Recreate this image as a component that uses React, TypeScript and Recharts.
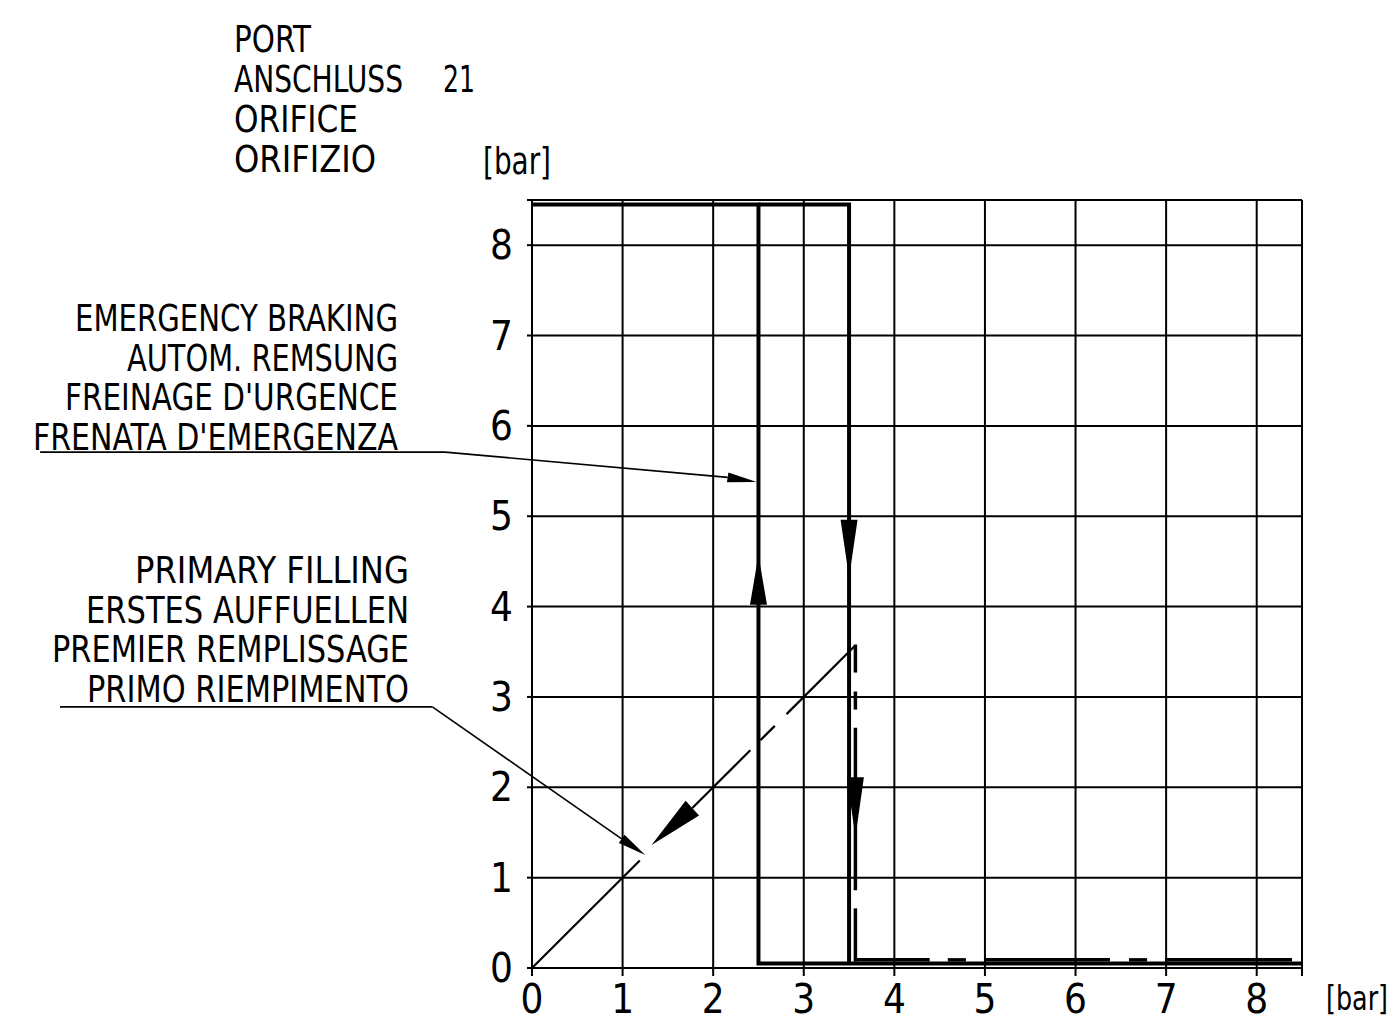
import { LineChart, Line, XAxis, YAxis, CartesianGrid, ReferenceLine } from 'recharts'

const FONT = '"Liberation Sans Narrow", "DejaVu Sans Condensed", "Liberation Sans", sans-serif'

// axis ticks (8.5 closes the frame, no label)
const X_TICKS = [0, 1, 2, 3, 4, 5, 6, 7, 8, 8.5]
const Y_TICKS = [0, 1, 2, 3, 4, 5, 6, 7, 8, 8.5]

// emergency braking (thick solid)
const BRAKE_OUTER = [{ x: 0, y: 8.45 }, { x: 2.5, y: 8.45 }, { x: 2.5, y: 0.05 }, { x: 8.5, y: 0.05 }]
const BRAKE_INNER = [{ x: 2.5, y: 8.45 }, { x: 3.5, y: 8.45 }, { x: 3.5, y: 0.05 }]

// primary filling ramp, drawn in pieces as on the drawing
const FILL_RAMP = [
  [{ x: 0, y: 0 }, { x: 1.19, y: 1.19 }],
  [{ x: 1.77, y: 1.77 }, { x: 2.41, y: 2.41 }],
  [{ x: 2.52, y: 2.52 }, { x: 2.68, y: 2.68 }],
  [{ x: 2.81, y: 2.81 }, { x: 3.56, y: 3.56 }],
]
// dashed drop at ~3.57 bar
const FILL_DROP = [
  [{ x: 3.57, y: 3.58 }, { x: 3.57, y: 3.27 }],
  [{ x: 3.57, y: 3.06 }, { x: 3.57, y: 2.86 }],
  [{ x: 3.57, y: 2.66 }, { x: 3.57, y: 0.86 }],
  [{ x: 3.57, y: 0.66 }, { x: 3.57, y: 0.07 }],
]
// dashed tail near 0 bar
const FILL_TAIL = [
  [{ x: 3.57, y: 0.09 }, { x: 4.39, y: 0.09 }],
  [{ x: 4.59, y: 0.09 }, { x: 4.79, y: 0.09 }],
  [{ x: 5.0, y: 0.09 }, { x: 6.38, y: 0.09 }],
  [{ x: 6.59, y: 0.09 }, { x: 6.79, y: 0.09 }],
  [{ x: 6.99, y: 0.09 }, { x: 8.39, y: 0.09 }],
]

// flow arrows: base -> tip
const FLOW_ARROWS = [
  [{ x: 2.5, y: 4.02 }, { x: 2.5, y: 4.57 }],
  [{ x: 3.5, y: 4.96 }, { x: 3.5, y: 4.32 }],
  [{ x: 3.57, y: 2.11 }, { x: 3.57, y: 1.45 }],
  [{ x: 1.77, y: 1.77 }, { x: 1.32, y: 1.36 }],
]

// callout leaders
const LEADER_EMERGENCY = [{ x: -5.43, y: 5.71 }, { x: -0.96, y: 5.71 }, { x: 2.16, y: 5.43 }]
const LEADER_EMERGENCY_TIP = { x: 2.48, y: 5.38 }
const LEADER_PRIMARY = [{ x: -5.21, y: 2.89 }, { x: -1.1, y: 2.89 }, { x: 0.99, y: 1.43 }]
const LEADER_PRIMARY_TIP = { x: 1.25, y: 1.25 }

const EMERGENCY_TEXT = ['EMERGENCY BRAKING', 'AUTOM. REMSUNG', "FREINAGE D'URGENCE", "FRENATA D'EMERGENZA"]
const EMERGENCY_WIDTHS = [323, 271, 333, 365]
const PRIMARY_TEXT = ['PRIMARY FILLING', 'ERSTES AUFFUELLEN', 'PREMIER REMPLISSAGE', 'PRIMO RIEMPIMENTO']
const PRIMARY_WIDTHS = [274, 323, 357, 322]
const PORT_TEXT = ['PORT', 'ANSCHLUSS', 'ORIFICE', 'ORIFIZIO']
const PORT_WIDTHS = [77, 169, 124, 142]

const arrowHead = (half: number) => (p: any) => {
  const { x1, y1, x2, y2 } = p
  const dx = x2 - x1, dy = y2 - y1
  const len = Math.hypot(dx, dy) || 1
  const nx = (-dy / len) * half, ny = (dx / len) * half
  return <polygon points={`${x2},${y2} ${x1 + nx},${y1 + ny} ${x1 - nx},${y1 - ny}`} fill="#000" />
}

const lineProps = { dot: false, activeDot: false, isAnimationActive: false, legendType: 'none' as const }

export default function App() {
  const leaderSegs = (pts: { x: number; y: number }[]) =>
    pts.slice(1).map((p, i) => [pts[i], p])

  return (
    <div style={{ position: 'absolute', left: 0, top: 0, width: 1396, height: 1032, background: '#fff', fontFamily: FONT }}>
      <LineChart width={1396} height={1032} margin={{ top: 200, right: 94, left: 472, bottom: 14 }}>
        <CartesianGrid stroke="#000" strokeWidth={2} strokeOpacity={1} />
        <XAxis type="number" dataKey="x" domain={[0, 8.5]} ticks={X_TICKS} interval={0} allowDataOverflow
          height={50} tickSize={8} tickMargin={9}
          tickFormatter={(v: number) => (v === 8.5 ? '' : String(v))}
          axisLine={{ stroke: '#000', strokeWidth: 2 }} tickLine={{ stroke: '#000', strokeWidth: 2 }}
          tick={{ fill: '#000', fontSize: 40 }} />
        <YAxis type="number" domain={[0, 8.5]} ticks={Y_TICKS} interval={0} allowDataOverflow
          width={60} tickSize={5} tickMargin={14}
          tickFormatter={(v: number) => (v === 8.5 ? '' : String(v))}
          axisLine={{ stroke: '#000', strokeWidth: 2 }} tickLine={{ stroke: '#000', strokeWidth: 2 }}
          tick={{ fill: '#000', fontSize: 40 }} />

        <Line {...lineProps} data={BRAKE_OUTER} dataKey="y" stroke="#000" strokeWidth={4} />
        <Line {...lineProps} data={BRAKE_INNER} dataKey="y" stroke="#000" strokeWidth={4} />
        {FILL_RAMP.map((d, i) => (
          <Line key={'r' + i} {...lineProps} data={d} dataKey="y" stroke="#000" strokeWidth={2.2} />
        ))}
        {FILL_DROP.map((d, i) => (
          <Line key={'d' + i} {...lineProps} data={d} dataKey="y" stroke="#000" strokeWidth={3.5} />
        ))}
        {FILL_TAIL.map((d, i) => (
          <Line key={'t' + i} {...lineProps} data={d} dataKey="y" stroke="#000" strokeWidth={3.5} />
        ))}

        {FLOW_ARROWS.map((s, i) => (
          <ReferenceLine key={'a' + i} segment={s} ifOverflow="visible" shape={arrowHead(i === 3 ? 10 : 8.5)} />
        ))}

        {leaderSegs(LEADER_EMERGENCY).map((s, i) => (
          <ReferenceLine key={'le' + i} segment={s} ifOverflow="visible" stroke="#000" strokeWidth={1.6} />
        ))}
        <ReferenceLine segment={[LEADER_EMERGENCY[2], LEADER_EMERGENCY_TIP]} ifOverflow="visible" shape={arrowHead(5)} />
        {leaderSegs(LEADER_PRIMARY).map((s, i) => (
          <ReferenceLine key={'lp' + i} segment={s} ifOverflow="visible" stroke="#000" strokeWidth={1.6} />
        ))}
        <ReferenceLine segment={[LEADER_PRIMARY[2], LEADER_PRIMARY_TIP]} ifOverflow="visible" shape={arrowHead(5)} />
      </LineChart>

      <svg width={1396} height={1032} style={{ position: 'absolute', left: 0, top: 0, pointerEvents: 'none' }}
        fontFamily={FONT} fill="#000">
        {PORT_TEXT.map((t, i) => (
          <text key={t} x={234} y={52 + i * 40} fontSize={38} textLength={PORT_WIDTHS[i]} lengthAdjust="spacingAndGlyphs">{t}</text>
        ))}
        <text x={443} y={92} fontSize={38} textLength={32} lengthAdjust="spacingAndGlyphs">21</text>
        <text x={483} y={174} fontSize={38} textLength={68} lengthAdjust="spacingAndGlyphs">[bar]</text>
        <text x={1326} y={1010} fontSize={34} textLength={62} lengthAdjust="spacingAndGlyphs">[bar]</text>
        {EMERGENCY_TEXT.map((t, i) => (
          <text key={t} x={398} y={331 + i * 39.5} fontSize={38} textAnchor="end"
            textLength={EMERGENCY_WIDTHS[i]} lengthAdjust="spacingAndGlyphs">{t}</text>
        ))}
        {PRIMARY_TEXT.map((t, i) => (
          <text key={t} x={409} y={583 + i * 39.5} fontSize={38} textAnchor="end"
            textLength={PRIMARY_WIDTHS[i]} lengthAdjust="spacingAndGlyphs">{t}</text>
        ))}
      </svg>
    </div>
  )
}
